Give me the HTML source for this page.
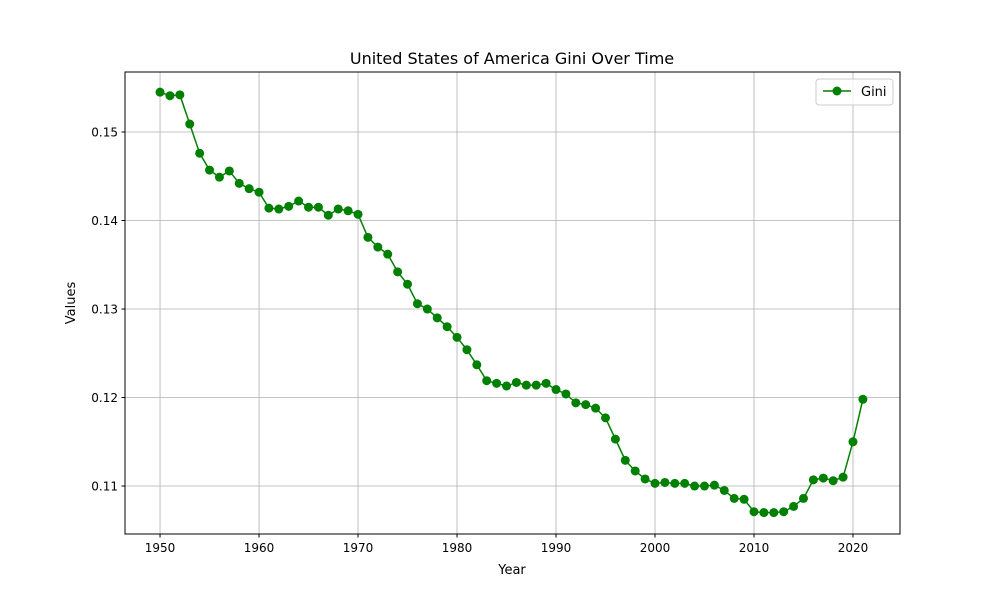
<!DOCTYPE html>
<html><head><meta charset="utf-8"><style>
body{margin:0;background:#fff;}
svg text{font-family:"DejaVu Sans","Liberation Sans",sans-serif;fill:#000;}
</style></head><body>
<svg id="chart" width="1000" height="600" viewBox="0 0 1000 600" xmlns="http://www.w3.org/2000/svg">
<rect width="1000" height="600" fill="#fff"/>
<g id="grid"></g>
<g id="series"></g>
<rect x="125" y="72" width="775" height="462" fill="none" stroke="#000" stroke-width="1"/>
<g id="ticks"></g>
<text x="512" y="64" font-size="16" text-anchor="middle">United States of America Gini Over Time</text>
<text x="512" y="574" font-size="13" text-anchor="middle">Year</text>
<text x="75" y="303" font-size="13" text-anchor="middle" transform="rotate(-90 75 303)">Values</text>
<g>
<rect x="816" y="79" width="77" height="26" rx="3" fill="#fff" fill-opacity="0.8" stroke="#ccc"/>
<line x1="823" y1="91" x2="851" y2="91" stroke="#008000" stroke-width="1.5"/>
<circle cx="837" cy="91" r="4.5" fill="#008000"/>
<text x="861" y="96" font-size="13">Gini</text>
</g>
</svg>
<script>
const years=[];for(let y=1950;y<=2021;y++)years.push(y);
const gini=[0.1545,0.1541,0.1542,0.1509,0.1476,0.1457,0.1449,0.1456,0.1442,0.1436,0.1432,0.1414,0.1413,0.1416,0.1422,0.1415,0.1415,0.1406,0.1413,0.1411,0.1407,0.1381,0.1370,0.1362,0.1342,0.1328,0.1306,0.1300,0.1290,0.1280,0.1268,0.1254,0.1237,0.1219,0.1216,0.1213,0.1217,0.1214,0.1214,0.1216,0.1209,0.1204,0.1194,0.1192,0.1188,0.1177,0.1153,0.1129,0.1117,0.1108,0.1103,0.1104,0.1103,0.1103,0.1100,0.1100,0.1101,0.1095,0.1086,0.1085,0.1071,0.1070,0.1070,0.1071,0.1077,0.1086,0.1107,0.1109,0.1106,0.1110,0.1150,0.1198];
const xTicks=[1950,1960,1970,1980,1990,2000,2010,2020];
const yTicks=[0.11,0.12,0.13,0.14,0.15];
const NS='http://www.w3.org/2000/svg';
const L=125,R=900,T=72,B=534;
const xMin=1946.46,xMax=2024.75,yMin=0.10458,yMax=0.15678;
const sx=v=>L+(v-xMin)/(xMax-xMin)*(R-L);
const sy=v=>B-(v-yMin)/(yMax-yMin)*(B-T);
function mk(tag,attrs,parent){const e=document.createElementNS(NS,tag);for(const k in attrs)e.setAttribute(k,attrs[k]);parent.appendChild(e);return e;}
const grid=document.getElementById('grid'),ticks=document.getElementById('ticks'),series=document.getElementById('series');
xTicks.forEach(t=>{const x=sx(t);
 let g=mk('line',{x1:x,x2:x,y1:T,y2:B,stroke:'#b0b0b0','stroke-width':0.8},grid);
 
 
 let tk=mk('line',{x1:x,x2:x,y1:B,y2:B+3.5,stroke:'#000'},ticks);
 
 
 let tx=mk('text',{x:x,y:B+18,'font-size':12,'text-anchor':'middle'},ticks);tx.textContent=t;
 
 
});
yTicks.forEach(t=>{const y=sy(t);
 let g=mk('line',{x1:L,x2:R,y1:y,y2:y,stroke:'#b0b0b0','stroke-width':0.8},grid);
 
 
 let tk=mk('line',{x1:L-3.5,x2:L,y1:y,y2:y,stroke:'#000'},ticks);
 
 
 let tx=mk('text',{x:L-7,y:y+4.5,'font-size':12,'text-anchor':'end'},ticks);tx.textContent=t.toFixed(2);
 
 
});
const pts=years.map((y,i)=>sx(y)+','+sy(gini[i])).join(' ');
const pl=mk('polyline',{points:pts,fill:'none',stroke:'#008000','stroke-width':1.5},series);


years.forEach((y,i)=>{const c=mk('circle',{cx:sx(y),cy:sy(gini[i]),r:4.5,fill:'#008000'},series);
 
 
});
</script>
</body></html>
